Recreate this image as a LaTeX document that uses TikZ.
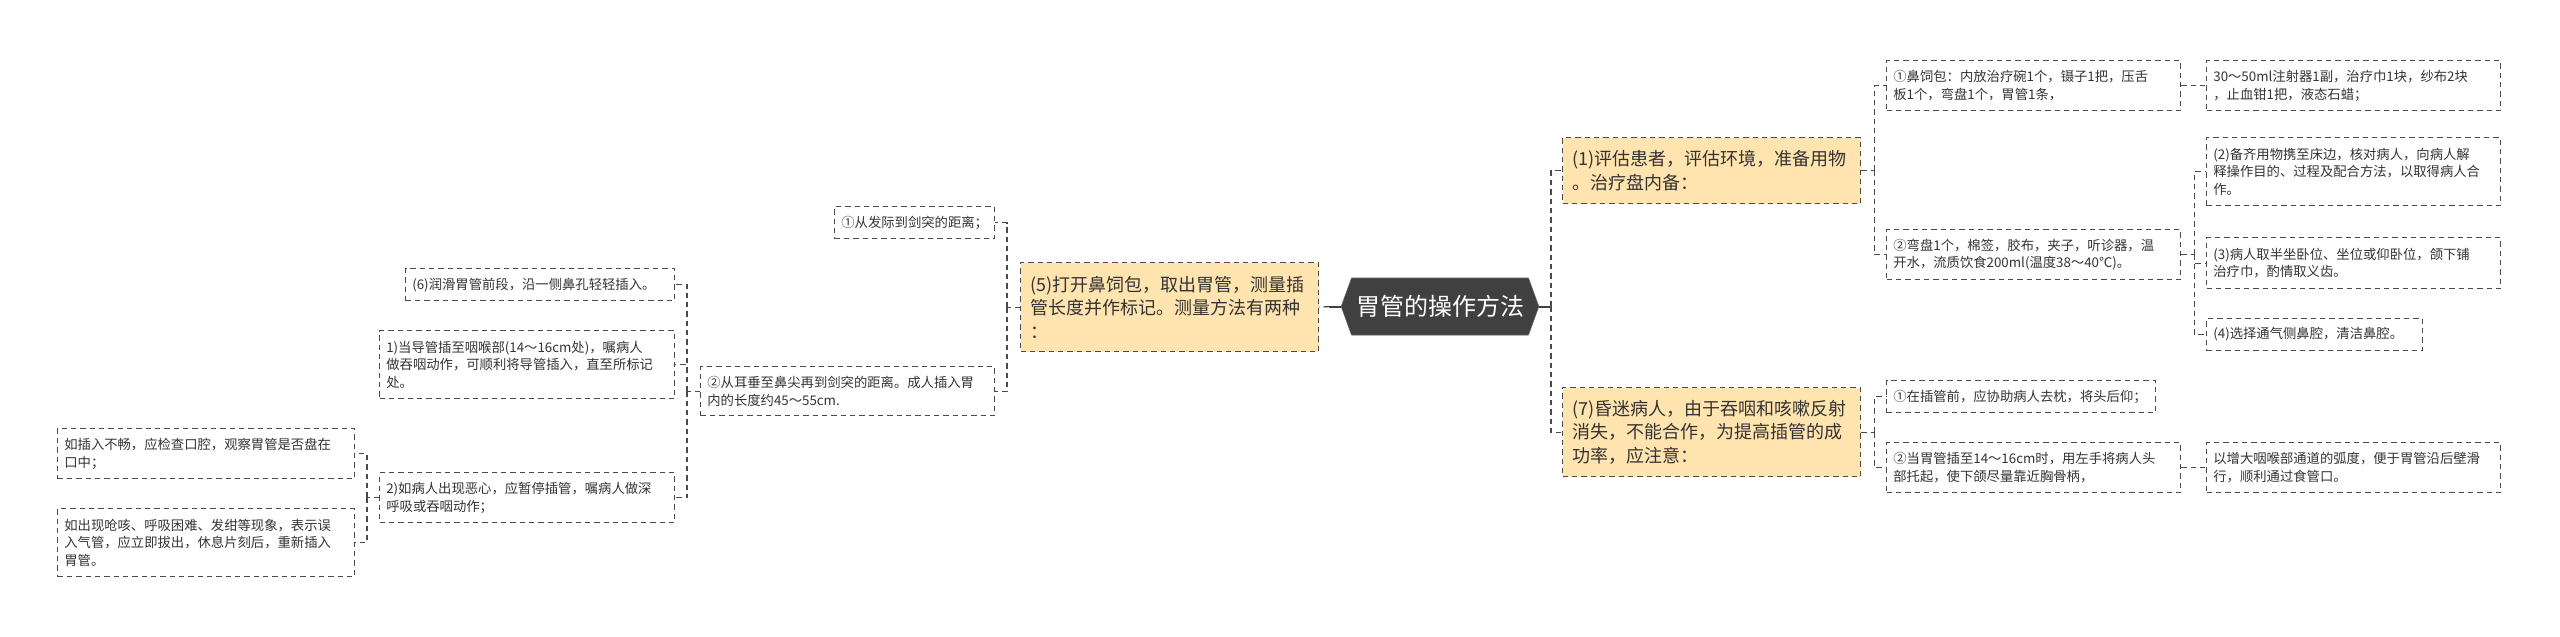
\documentclass[tikz,border=0pt]{standalone}
\usepackage{fontspec}
\setmainfont{Noto Sans CJK SC}
\usetikzlibrary{shapes.symbols}
\definecolor{linec}{HTML}{4A4A4A}
\definecolor{hexc}{HTML}{404040}
\definecolor{topicc}{HTML}{FFE4B0}
\definecolor{textc}{HTML}{333333}

\begin{document}
\begin{tikzpicture}[x=0.75pt, y=-0.75pt,
  every node/.style={anchor=north west, text=textc, align=left, inner ysep=0pt},
  leaf/.style={draw=linec, line width=1pt, dash pattern=on 4pt off 3pt, inner xsep=5pt,
    font=\fontsize{10}{13.3}\selectfont},
  topic/.style={leaf, fill=topicc, inner xsep=7pt, text width=209.5pt,
    font=\fontsize{13.5}{17.5}\selectfont},
  hub/.style={shape=signal, signal to=east and west, signal pointer angle=140,
    fill=hexc, draw=hexc!85!white, text=white, anchor=center,
    minimum width=146pt, minimum height=42.75pt, font=\fontsize{18}{20}\selectfont},
  link/.style={draw=linec, line width=1pt, dash pattern=on 4pt off 3pt},
  trunk/.style={draw=hexc, line width=1.5pt}]
\useasboundingbox (0,0) rectangle (2560,636);

% centre
\node[hub] (root) at (1440,306.5) {胃管的操作方法};

% right branch
\node[topic, minimum height=49.5pt] (n1) at (1562,137) {(1)评估患者，评估环境，准备用物\\。治疗盘内备：};
\node[leaf, text width=210.5pt, minimum height=37.5pt] (n1a) at (1886,60) {①鼻饲包：内放治疗碗1个，镊子1把，压舌\\板1个，弯盘1个，胃管1条，};
\node[leaf, text width=210.5pt, minimum height=37.5pt] (n1a1) at (2206,60) {30～50ml注射器1副，治疗巾1块，纱布2块\\，止血钳1把，液态石蜡；};
\node[leaf, text width=210.5pt, minimum height=37.5pt] (n1b) at (1886,229) {②弯盘1个，棉签，胶布，夹子，听诊器，温\\开水，流质饮食200ml(温度38～40℃)。};
\node[leaf, text width=210.5pt, minimum height=51pt] (n1b1) at (2206,137) {(2)备齐用物携至床边，核对病人，向病人解\\释操作目的、过程及配合方法，以取得病人合\\作。};
\node[leaf, text width=210.5pt, minimum height=38.25pt] (n1b2) at (2206,237) {(3)病人取半坐卧位、坐位或仰卧位，颌下铺\\治疗巾，酌情取义齿。};
\node[leaf, text width=152pt, minimum height=24pt] (n1b3) at (2206,318) {(4)选择通气侧鼻腔，清洁鼻腔。};

\node[topic, minimum height=66.75pt] (n7) at (1562,387) {(7)昏迷病人，由于吞咽和咳嗽反射\\消失，不能合作，为提高插管的成\\功率，应注意：};
\node[leaf, text width=191.75pt, minimum height=24pt] (n7a) at (1886,380) {①在插管前，应协助病人去枕，将头后仰；};
\node[leaf, text width=210.5pt, minimum height=37.5pt] (n7b) at (1886,442) {②当胃管插至14～16cm时，用左手将病人头\\部托起，使下颌尽量靠近胸骨柄，};
\node[leaf, text width=210.5pt, minimum height=37.5pt] (n7b1) at (2206,442) {以增大咽喉部通道的弧度，便于胃管沿后壁滑\\行，顺利通过食管口。};

% left branch
\node[topic, minimum height=66.75pt] (n5) at (1020,262) {(5)打开鼻饲包，取出胃管，测量插\\管长度并作标记。测量方法有两种\\：};
\node[leaf, text width=110pt, minimum height=24pt] (n5a) at (834,206) {①从发际到剑突的距离；};
\node[leaf, text width=210.5pt, minimum height=36.75pt] (n5b) at (700,366) {②从耳垂至鼻尖再到剑突的距离。成人插入胃\\内的长度约45～55cm.};
\node[leaf, text width=191.75pt, minimum height=24pt] (n6) at (405,268) {(6)润滑胃管前段，沿一侧鼻孔轻轻插入。};
\node[leaf, text width=211.25pt, minimum height=51pt] (n5b2) at (379,330) {1)当导管插至咽喉部(14～16cm处)，嘱病人\\做吞咽动作，可顺利将导管插入，直至所标记\\处。};
\node[leaf, text width=211.25pt, minimum height=37.5pt] (n5b3) at (379,472) {2)如病人出现恶心，应暂停插管，嘱病人做深\\呼吸或吞咽动作；};
\node[leaf, text width=212.75pt, minimum height=37.5pt] (n5b3a) at (57,428) {如插入不畅，应检查口腔，观察胃管是否盘在\\口中；};
\node[leaf, text width=212.75pt, minimum height=51pt] (n5b3b) at (57,508) {如出现呛咳、呼吸困难、发绀等现象，表示误\\入气管，应立即拔出，休息片刻后，重新插入\\胃管。};

% connectors
\draw[trunk] (root.east) -- ++(12,0) coordinate (rb);
\foreach \c in {n1,n7} \draw[link] (rb) |- (\c.west);
\draw[trunk] (root.west) -- ++(-12,0) coordinate (lb);
\draw[link] (lb) -- (n5.east);

\draw[link] (n1.east) -- ++(13,0) coordinate (b1);
\foreach \c in {n1a,n1b} \draw[link] (b1) |- (\c.west);
\draw[link] (n1a.east) -- (n1a1.west);
\draw[link] (n1b.east) -- ++(13,0) coordinate (b2);
\foreach \c in {n1b1,n1b2,n1b3} \draw[link] (b2) |- (\c.west);
\draw[link] (n7.east) -- ++(13,0) coordinate (b3);
\foreach \c in {n7a,n7b} \draw[link] (b3) |- (\c.west);
\draw[link] (n7b.east) -- (n7b1.west);

\draw[link] (n5.west) -- ++(-13,0) coordinate (b4);
\foreach \c in {n5a,n5b} \draw[link] (b4) |- (\c.east);
\draw[link] (n5b.west) -- ++(-13,0) coordinate (b5);
\foreach \c in {n6,n5b2,n5b3} \draw[link] (b5) |- (\c.east);
\draw[link] (n5b3.west) -- ++(-12,0) coordinate (b6);
\foreach \c in {n5b3a,n5b3b} \draw[link] (b6) |- (\c.east);
\end{tikzpicture}
\end{document}
